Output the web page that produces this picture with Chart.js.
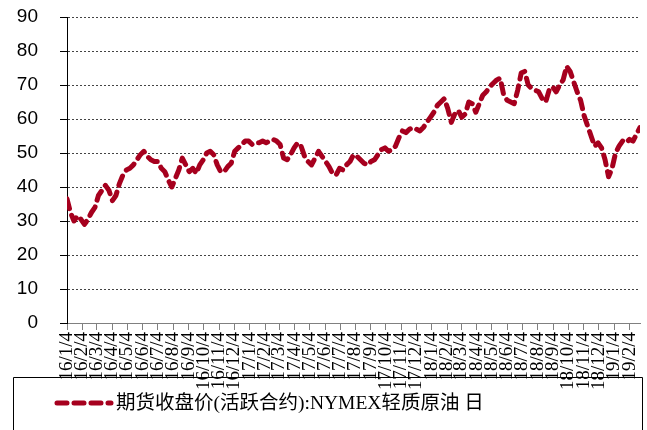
<!DOCTYPE html>
<html><head><meta charset="utf-8">
<script src="https://cdn.jsdelivr.net/npm/chart.js@4/dist/chart.umd.min.js"></script>
<style>html,body{margin:0;padding:0;background:#fff}#wrap{width:647px;height:430px;position:relative}</style>
</head><body><div id="wrap"><canvas id="c" width="647" height="430"></canvas></div>
<script>
const seriesName = "期货收盘价(活跃合约):NYMEX轻质原油 日";
const dates = [
"2016-01-04","2016-01-11","2016-01-18","2016-01-25","2016-02-01","2016-02-08","2016-02-15","2016-02-22","2016-02-29","2016-03-07",
"2016-03-14","2016-03-21","2016-03-28","2016-04-04","2016-04-11","2016-04-18","2016-04-25","2016-05-02","2016-05-09","2016-05-16",
"2016-05-23","2016-05-30","2016-06-06","2016-06-13","2016-06-20","2016-06-27","2016-07-04","2016-07-11","2016-07-18","2016-07-25",
"2016-08-01","2016-08-08","2016-08-15","2016-08-22","2016-08-29","2016-09-05","2016-09-12","2016-09-19","2016-09-26","2016-10-03",
"2016-10-10","2016-10-17","2016-10-24","2016-10-31","2016-11-07","2016-11-14","2016-11-21","2016-11-28","2016-12-05","2016-12-12",
"2016-12-19","2016-12-26",
"2017-01-02","2017-01-09","2017-01-16","2017-01-23","2017-01-30","2017-02-06","2017-02-13","2017-02-20","2017-02-27","2017-03-06",
"2017-03-13","2017-03-20","2017-03-27","2017-04-03","2017-04-10","2017-04-17","2017-04-24","2017-05-01","2017-05-08","2017-05-15",
"2017-05-22","2017-05-29","2017-06-05","2017-06-12","2017-06-19","2017-06-26","2017-07-03","2017-07-10","2017-07-17","2017-07-24",
"2017-07-31","2017-08-07","2017-08-14","2017-08-21","2017-08-28","2017-09-04","2017-09-11","2017-09-18","2017-09-25","2017-10-02",
"2017-10-09","2017-10-16","2017-10-23","2017-10-30","2017-11-06","2017-11-13","2017-11-20","2017-11-27","2017-12-04","2017-12-11",
"2017-12-18","2017-12-25",
"2018-01-01","2018-01-08","2018-01-15","2018-01-22","2018-01-29","2018-02-05","2018-02-12","2018-02-19","2018-02-26","2018-03-05",
"2018-03-12","2018-03-19","2018-03-26","2018-04-02","2018-04-09","2018-04-16","2018-04-23","2018-04-30","2018-05-07","2018-05-14",
"2018-05-21","2018-05-28","2018-06-04","2018-06-11","2018-06-18","2018-06-25","2018-07-02","2018-07-09","2018-07-16","2018-07-23",
"2018-07-30","2018-08-06","2018-08-13","2018-08-20","2018-08-27","2018-09-03","2018-09-10","2018-09-17","2018-09-24","2018-10-01",
"2018-10-08","2018-10-15","2018-10-22","2018-10-29","2018-11-05","2018-11-12","2018-11-19","2018-11-26","2018-12-03","2018-12-10",
"2018-12-17","2018-12-24","2018-12-31",
"2019-01-07","2019-01-14","2019-01-21","2019-01-28","2019-02-04","2019-02-11","2019-02-18","2019-02-25"
];
const prices = [
36.5,32.5,30.0,31.5,30.5,29.0,30.5,32.5,34.0,37.5,
39.0,40.5,39.0,36.0,37.5,41.0,43.5,45.0,45.5,46.5,
48.0,49.5,50.5,49.0,48.0,47.5,47.5,45.5,44.5,42.0,
40.0,42.5,45.0,48.5,46.5,44.5,45.5,44.0,46.5,48.0,
50.0,50.5,49.5,46.5,44.5,44.5,46.0,47.0,50.5,51.5,
52.5,53.5,
53.5,52.5,53.0,53.0,53.5,53.0,53.5,54.0,53.5,52.5,
48.5,48.0,49.5,51.5,53.0,52.0,49.0,47.5,46.5,48.5,
50.5,49.0,47.5,46.0,44.0,43.5,45.5,45.0,46.5,47.5,
49.5,49.0,48.0,47.0,46.5,47.5,48.0,49.5,51.0,51.5,
50.5,51.0,52.0,54.5,56.5,56.0,57.0,57.5,57.0,56.5,
57.5,59.0,
60.5,62.0,64.0,65.0,66.0,63.0,59.0,61.5,62.5,60.5,
61.5,65.0,64.5,62.0,64.5,67.0,68.0,69.5,70.5,71.5,
72.0,67.0,65.5,65.0,64.5,68.5,73.5,74.0,70.0,69.0,
68.5,68.0,66.0,65.0,68.5,69.5,68.0,70.0,71.5,75.5,
74.0,71.0,68.0,65.5,61.0,58.0,55.0,52.0,53.0,51.5,
48.0,43.0,45.5,
50.0,52.0,53.5,53.0,54.0,53.5,55.5,57.5
];
const tickLabels = [
"16/1/4","16/2/4","16/3/4","16/4/4","16/5/4","16/6/4","16/7/4","16/8/4","16/9/4","16/10/4","16/11/4","16/12/4",
"17/1/4","17/2/4","17/3/4","17/4/4","17/5/4","17/6/4","17/7/4","17/8/4","17/9/4","17/10/4","17/11/4","17/12/4",
"18/1/4","18/2/4","18/3/4","18/4/4","18/5/4","18/6/4","18/7/4","18/8/4","18/9/4","18/10/4","18/11/4","18/12/4",
"19/1/4","19/2/4"
];
const yTicks = [0,10,20,30,40,50,60,70,80,90];

const lineColor = "#A6001E";
const base = Date.UTC(2016,0,4);
const dayOfISO = s => (Date.UTC(+s.slice(0,4), +s.slice(5,7)-1, +s.slice(8,10)) - base)/86400000;
const dayOfLabel = s => { const p = s.split('/'); return (Date.UTC(2000+ +p[0], +p[1]-1, +p[2]) - base)/86400000; };

const points = dates.map((d,i)=>({x: dayOfISO(d), y: prices[i]}));

const legendPlugin = {
  id: 'boxLegend',
  beforeDraw(chart){
    const ctx = chart.ctx;
    ctx.save();
    ctx.strokeStyle = '#000'; ctx.lineWidth = 1;
    ctx.beginPath();
    ctx.moveTo(13.5, 440); ctx.lineTo(13.5, 377.5); ctx.lineTo(642.5, 377.5); ctx.lineTo(642.5, 440);
    ctx.stroke();
    ctx.strokeStyle = lineColor; ctx.lineWidth = 5; ctx.lineCap = 'round';
    ctx.setLineDash([10,7]);
    ctx.beginPath(); ctx.moveTo(57, 403); ctx.lineTo(111, 403); ctx.stroke();
    ctx.setLineDash([]);
    ctx.fillStyle = '#000';
    ctx.font = '19.5px "Liberation Serif", "Noto Sans CJK SC"';
    ctx.textBaseline = 'middle'; ctx.textAlign = 'left';
    ctx.fillText(seriesName, 116, 404);
    ctx.restore();
  }
};

new Chart(document.getElementById('c'), {
  type: 'line',
  data: { datasets: [{
    label: seriesName, data: points,
    borderColor: lineColor, borderWidth: 5, borderDash: [10,7],
    borderCapStyle: 'round', borderJoinStyle: 'round',
    pointRadius: 0, tension: 0, fill: false
  }]},
  options: {
    responsive: false, animation: false, devicePixelRatio: 1,
    layout: { padding: { top: 17, right: 7, left: 0, bottom: 0 } },
    plugins: { legend: { display: false }, tooltip: { enabled: false } },
    scales: {
      x: {
        type: 'linear', min: 0, max: dayOfISO(dates[dates.length-1]),
        afterBuildTicks: s => { s.ticks = tickLabels.map(l => ({ value: dayOfLabel(l) })); },
        afterFit: s => { s.height = 107; s.paddingLeft = 0; s.paddingRight = 0; s.paddingTop = 0; s.paddingBottom = 0; },
        ticks: {
          autoSkip: false, minRotation: 90, maxRotation: 90, padding: 2,
          color: '#000', font: { family: '"Liberation Serif"', size: 19 },
          callback: (v, i) => tickLabels[i]
        },
        grid: { drawOnChartArea: false, drawTicks: true, tickLength: 7, color: '#808080' },
        border: { color: '#808080', width: 1 }
      },
      y: {
        min: 0, max: 90,
        afterBuildTicks: s => { s.ticks = yTicks.map(v => ({ value: v })); },
        afterFit: s => { s.width = 67; s.paddingTop = 0; s.paddingBottom = 0; s.paddingLeft = 0; s.paddingRight = 0; },
        ticks: { color: '#000', padding: 22, font: { family: '"Liberation Sans"', size: 19 } },
        grid: { color: '#444444', lineWidth: 1, tickLength: 7, tickColor: '#000' },
        border: { color: '#000', width: 1, dash: [2,2] }
      }
    }
  },
  plugins: [legendPlugin]
});
</script></body></html>
